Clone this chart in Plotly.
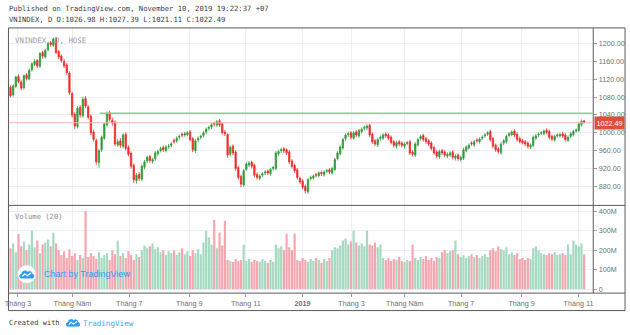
import plotly.graph_objects as go

W, H = 630, 335

# ---------------- data (each candle ~ 2 trading days) ----------------
open_ = [
    1102, 1085, 1104, 1126, 1114, 1101, 1130, 1121, 1141, 1153,
    1162, 1149, 1180, 1170, 1186, 1202, 1196, 1212, 1182, 1172,
    1160, 1152, 1134, 1088, 1042, 1014, 1057, 1038, 1077, 1058,
    1037, 1002, 983, 933, 962, 988, 1018, 1045, 1028, 1024,
    973, 982, 970, 997, 967, 954, 927, 893, 907, 896,
    923, 937, 947, 936, 942, 953, 960, 967, 960, 969,
    972, 983, 982, 990, 997, 995, 996, 1002, 987, 960,
    984, 990, 994, 1002, 1010, 1013, 1021, 1018, 1027, 1020,
    1002, 996, 952, 970, 957, 922, 902, 883, 918, 928,
    934, 927, 907, 898, 905, 910, 914, 908, 920, 920,
    953, 960, 964, 962, 957, 937, 927, 917, 898, 892,
    880, 868, 897, 899, 906, 904, 911, 906, 914, 917,
    910, 918, 942, 953, 966, 987, 996, 1000, 988, 1002,
    993, 1003, 1010, 1011, 1017, 997, 982, 973, 987, 988,
    997, 995, 990, 980, 970, 980, 977, 970, 976, 980,
    957, 950, 973, 987, 994, 987, 982, 977, 967, 957,
    946, 960, 957, 948, 950, 957, 943, 950, 940, 943,
    960, 966, 977, 973, 984, 980, 988, 993, 997, 1003,
    987, 972, 964, 956, 977, 980, 994, 996, 1004, 997,
    987, 982, 980, 977, 968, 972, 988, 995, 999, 998,
    1006, 1003, 992, 984, 993, 993, 998, 995, 983, 992,
    996, 1004, 1005, 1018, 1026.98,
]
high = [
    1106, 1109, 1128, 1131, 1118, 1131, 1134, 1144, 1158, 1166,
    1166, 1181, 1184, 1189, 1204, 1206, 1214, 1215, 1186, 1176,
    1165, 1156, 1138, 1092, 1046, 1060, 1062, 1081, 1082, 1062,
    1041, 1007, 987, 964, 994, 1024, 1048, 1050, 1034, 1028,
    986, 988, 999, 1001, 972, 958, 931, 910, 912, 929,
    939, 949, 951, 944, 959, 962, 969, 971, 972, 975,
    979, 987, 992, 996, 1001, 1002, 1004, 1006, 990, 986,
    992, 996, 1004, 1012, 1016, 1022, 1025, 1029, 1031, 1023,
    1006, 999, 972, 974, 961, 926, 906, 919, 934, 937,
    938, 931, 911, 907, 912, 916, 918, 922, 926, 959,
    962, 966, 968, 965, 961, 941, 931, 921, 902, 896,
    884, 899, 904, 907, 910, 914, 915, 916, 919, 921,
    924, 944, 959, 972, 989, 999, 1003, 1004, 1004, 1006,
    1009, 1012, 1016, 1019, 1020, 1001, 986, 989, 994, 999,
    1001, 999, 994, 984, 982, 984, 981, 979, 982, 984,
    961, 979, 989, 996, 998, 991, 986, 981, 971, 961,
    962, 964, 961, 956, 959, 961, 952, 954, 949, 966,
    972, 976, 981, 984, 988, 990, 994, 999, 1004, 1007,
    991, 976, 968, 979, 986, 996, 1002, 1006, 1008, 1001,
    991, 986, 984, 981, 976, 994, 997, 1001, 1004, 1008,
    1010, 1007, 996, 996, 999, 1000, 1002, 999, 994, 1002,
    1007, 1010, 1024, 1030, 1027.39,
]
low = [
    1079, 1081, 1100, 1111, 1095, 1097, 1117, 1118, 1137, 1149,
    1145, 1145, 1166, 1166, 1182, 1193, 1192, 1176, 1165, 1157,
    1145, 1130, 1085, 1034, 1008, 1010, 1034, 1034, 1055, 1030,
    995, 980, 928, 922, 957, 984, 1014, 1025, 1016, 970,
    968, 966, 965, 960, 947, 920, 888, 886, 892, 891,
    918, 932, 933, 931, 937, 948, 956, 957, 956, 964,
    967, 976, 977, 985, 990, 991, 992, 981, 957, 955,
    979, 985, 990, 997, 1005, 1008, 1014, 1013, 1013, 996,
    993, 944, 947, 950, 915, 895, 878, 879, 914, 923,
    920, 900, 895, 893, 901, 905, 905, 904, 915, 916,
    949, 955, 955, 950, 930, 920, 910, 895, 885, 873,
    864, 863, 893, 895, 900, 900, 903, 902, 910, 907,
    906, 914, 938, 949, 962, 982, 991, 985, 984, 990,
    989, 998, 1005, 1006, 990, 975, 970, 968, 982, 984,
    988, 983, 974, 967, 965, 970, 967, 965, 972, 950,
    947, 946, 969, 982, 980, 975, 970, 960, 950, 943,
    941, 950, 945, 943, 946, 940, 938, 937, 935, 939,
    956, 962, 971, 969, 978, 976, 984, 989, 993, 980,
    965, 957, 953, 951, 972, 976, 990, 992, 990, 980,
    976, 974, 970, 965, 963, 968, 984, 990, 995, 994,
    997, 985, 981, 980, 989, 989, 988, 980, 979, 988,
    992, 1000, 1002, 1014, 1021.11,
]
close = [
    1083, 1105, 1125, 1115, 1100, 1128, 1122, 1140, 1155, 1160,
    1150, 1178, 1172, 1185, 1200, 1198, 1210, 1180, 1170, 1162,
    1150, 1135, 1090, 1040, 1015, 1055, 1040, 1075, 1060, 1035,
    1000, 985, 935, 960, 990, 1020, 1043, 1030, 1022, 975,
    980, 972, 995, 965, 952, 925, 895, 905, 898, 925,
    935, 945, 938, 940, 955, 958, 965, 962, 968, 970,
    975, 980, 988, 992, 995, 998, 1000, 985, 962, 982,
    988, 992, 1000, 1008, 1012, 1018, 1020, 1025, 1018, 1000,
    998, 950, 968, 955, 920, 900, 885, 915, 930, 932,
    925, 905, 900, 903, 908, 912, 910, 918, 922, 955,
    958, 962, 960, 955, 935, 925, 915, 900, 890, 878,
    870, 895, 900, 903, 905, 910, 908, 912, 915, 912,
    920, 940, 955, 968, 985, 995, 998, 990, 1000, 995,
    1005, 1008, 1012, 1015, 995, 980, 975, 985, 990, 995,
    993, 988, 978, 972, 978, 975, 972, 975, 978, 955,
    952, 975, 985, 992, 985, 980, 975, 965, 955, 948,
    958, 955, 950, 952, 955, 945, 948, 942, 945, 962,
    968, 972, 975, 980, 982, 986, 990, 995, 1000, 985,
    970, 962, 958, 975, 982, 992, 998, 1002, 995, 985,
    980, 978, 975, 970, 972, 990, 993, 997, 1000, 1004,
    1001, 990, 986, 992, 995, 996, 993, 985, 990, 998,
    1003, 1006, 1020, 1026, 1022.49,
]
volume_m = [
    210, 235, 190, 283, 220, 245, 200, 230, 300, 215,
    250, 185, 230, 240, 255, 220, 290, 235, 200, 175,
    195, 160, 205, 170, 185, 150, 175, 160, 402, 165,
    185, 170, 155, 190, 160, 175, 185, 150, 200, 180,
    250, 170, 185, 160, 195, 175, 150, 180, 165, 200,
    225, 210, 220, 235, 205, 215, 190, 200, 175, 195,
    185, 200, 175, 190, 210, 180, 195, 170, 200, 185,
    205, 180, 240, 300, 265, 230, 357, 210, 290, 225,
    350, 150, 145, 140, 155, 145, 150, 230, 145, 155,
    140, 150, 145, 140, 155, 145, 135, 150, 140, 230,
    210, 220, 200, 285, 215, 200, 285, 150, 145, 160,
    150, 140, 155, 145, 160, 150, 135, 155, 145, 160,
    200, 215, 210, 225, 250, 260, 230, 245, 300, 240,
    225, 235, 220, 300, 230, 225, 240, 215, 230, 160,
    150, 160, 145, 155, 150, 165, 145, 140, 150, 145,
    230, 160, 150, 165, 155, 170, 150, 160, 145, 165,
    160, 190, 200, 185, 195, 200, 250, 180, 165, 175,
    160, 170, 180, 165, 175, 160, 170, 180, 165, 200,
    210, 195, 220, 205, 200, 215, 180, 190, 175, 185,
    155, 160, 150, 160, 155, 210, 220, 200, 185, 180,
    175, 185, 180, 190, 175, 180, 185, 175, 230, 180,
    250, 230, 220, 235, 180,
]
tick_pos = [2.8, 23.1, 44.3, 66.7, 87.8, 108.9, 127.2, 147.1, 168.1, 190.7, 211.9]
tick_labels = ["Tháng 3", "Tháng Năm", "Tháng 7", "Tháng 9", "Tháng 11", "<b>2019</b>",
               "Tháng 3", "Tháng Năm", "Tháng 7", "Tháng 9", "Tháng 11"]
price_ticks = [880, 920, 960, 1000, 1040, 1080, 1120, 1160, 1200]
vol_ticks = [0, 100, 200, 300, 400]
vol_tick_labels = ["0", "100M", "200M", "300M", "400M"]
resistance_level = 1044
resistance_start = 33.3

n = len(close)
assert len(open_) == n and len(high) == n and len(low) == n and len(volume_m) == n, \
    (len(open_), len(high), len(low), len(close), len(volume_m))
xs = list(range(n))

# ---------------- styling helpers ----------------
def px(x):
    return x / W

def py(y):
    return 1 - y / H

UP, DOWN = "#2e9b3a", "#ef2b2b"
VUP, VDOWN = "#a5d9c0", "#f5a6ae"
GRID = "#eceff5"
FRAME = "#5a5a5a"
TXT = "#707070"
BLUE = "#2f9cf4"
MONO = "DejaVu Sans Mono"
SANS = "Liberation Sans"

X_RANGE = [-0.56, 217.4]
X_DOM = [px(5), px(593)]

fig = go.Figure()
fig.add_trace(go.Candlestick(
    x=xs, open=open_, high=high, low=low, close=close,
    increasing=dict(line=dict(color=UP, width=0.8), fillcolor=UP),
    decreasing=dict(line=dict(color=DOWN, width=0.8), fillcolor=DOWN),
    whiskerwidth=0, xaxis="x", yaxis="y", showlegend=False, hoverinfo="skip",
))
vcolors = [VUP if c >= o else VDOWN for o, c in zip(open_, close)]
fig.add_trace(go.Bar(
    x=xs, y=volume_m, marker=dict(color=vcolors, line=dict(width=0)),
    xaxis="x2", yaxis="y2", showlegend=False, hoverinfo="skip",
))

tickfont = dict(family=SANS, size=7.2, color=TXT)
fig.update_layout(
    width=W, height=H, margin=dict(l=0, r=0, t=0, b=0),
    paper_bgcolor="white", plot_bgcolor="white",
    bargap=0.18, showlegend=False,
    xaxis=dict(domain=X_DOM, range=X_RANGE, anchor="y", tickvals=tick_pos,
               showticklabels=False, showgrid=True, gridcolor=GRID, gridwidth=1,
               zeroline=False, rangeslider=dict(visible=False), ticks=""),
    yaxis=dict(domain=[py(206), py(28)], range=[837.3, 1235.1], anchor="x", side="right",
               tickvals=price_ticks, tickformat=".2f", ticks="outside", ticklen=3,
               tickcolor="#999", tickfont=tickfont, showgrid=True, gridcolor=GRID,
               zeroline=False),
    xaxis2=dict(domain=X_DOM, range=X_RANGE, anchor="y2", matches="x",
                tickvals=tick_pos, ticktext=tick_labels, ticks="outside", ticklen=3,
                tickcolor="#999", tickfont=tickfont, showgrid=True, gridcolor=GRID,
                zeroline=False, ticklabeloverflow="allow"),
    yaxis2=dict(domain=[py(294), py(206)], range=[-20.5, 430.8], anchor="x2", side="right",
                tickvals=vol_ticks, ticktext=vol_tick_labels, ticks="outside", ticklen=3,
                tickcolor="#999", tickfont=tickfont, showgrid=True, gridcolor=GRID,
                zeroline=False),
)

shapes = []
# frame & separators
shapes.append(dict(type="rect", xref="paper", yref="paper", x0=px(4.5), x1=px(625),
                   y0=py(311.5), y1=py(28), line=dict(color=FRAME, width=1)))
for yy in (206, 294):
    shapes.append(dict(type="line", xref="paper", yref="paper", x0=px(4.5), x1=px(625),
                       y0=py(yy), y1=py(yy), line=dict(color=FRAME, width=1)))
shapes.append(dict(type="line", xref="paper", yref="paper", x0=px(593), x1=px(593),
                   y0=py(294), y1=py(28), line=dict(color=FRAME, width=1)))
# drawn resistance line and last price line
shapes.append(dict(type="line", xref="x", yref="y", x0=resistance_start, x1=X_RANGE[1],
                   y0=resistance_level, y1=resistance_level,
                   line=dict(color="#86cf98", width=1.5)))
shapes.append(dict(type="line", xref="paper", yref="y", x0=X_DOM[0], x1=X_DOM[1],
                   y0=close[-1], y1=close[-1], line=dict(color="#f4b3b3", width=1)))


def cloud_paths(cx, cy, s):
    def P(x, y):
        return f"{px(cx + x * s):.5f},{py(cy + y * s):.5f}"
    body = ("M " + P(-5.5, 3.5) +
            " C " + P(-8, 3.5) + " " + P(-8, -0.5) + " " + P(-5.2, -0.7) +
            " C " + P(-5, -4) + " " + P(-1, -5) + " " + P(0.5, -2.8) +
            " C " + P(2, -4.2) + " " + P(5.5, -3.5) + " " + P(5.3, -0.8) +
            " C " + P(8, -0.5) + " " + P(7.8, 3.5) + " " + P(5.5, 3.5) + " Z")
    zig = ("M " + P(-4.5, 1.6) + " L " + P(-2, -0.9) + " L " + P(0.5, 1.1) +
           " L " + P(4.2, -1.6))
    return body, zig

# logo in volume pane
shapes.append(dict(type="circle", xref="paper", yref="paper", x0=px(14), x1=px(32),
                   y0=py(284), y1=py(266), fillcolor="white", line=dict(color="#e3e3e3", width=0.5)))
b, z = cloud_paths(23, 275.5, 1.0)
shapes.append(dict(type="path", xref="paper", yref="paper", path=b, fillcolor=BLUE,
                   line=dict(color=BLUE, width=0.5)))
shapes.append(dict(type="path", xref="paper", yref="paper", path=z,
                   line=dict(color="white", width=1.2)))
# logo in footer
b2, z2 = cloud_paths(69.5, 324, 0.95)
shapes.append(dict(type="path", xref="paper", yref="paper", path=b2, fillcolor=BLUE,
                   line=dict(color=BLUE, width=0.5)))
shapes.append(dict(type="path", xref="paper", yref="paper", path=z2,
                   line=dict(color="white", width=1.1)))
fig.update_layout(shapes=shapes)

ann = []
def text(x, y, s, size, color, family=MONO, anchor="left"):
    ann.append(dict(x=px(x), y=py(y), xref="paper", yref="paper", text=s, showarrow=False,
                    xanchor=anchor, yanchor="middle", font=dict(family=family, size=size, color=color)))

text(3.5, 9, "Published on TradingView.com, November 10, 2019 19:22:37 +07", 7.2, "#3c3c3c")
text(3.5, 20, "VNINDEX, D O:1026.98 H:1027.39 L:1021.11 C:1022.49", 7.2, "#3c3c3c")
text(9, 40.5, "VNINDEX, D, HOSE", 7.4, "#a0a0a0")
text(9, 217.5, "Volume (20)", 7.2, "#8a8a8a")
text(38, 274.5, "Chart by TradingView", 9.0, BLUE, family=SANS)
text(3.5, 324, "Created with", 7.0, "#3c3c3c")
text(77.5, 324, "TradingView", 7.6, "#45a6f2")
# last price label
ann.append(dict(x=px(593.5), y=close[-1], xref="paper", yref="y", text=f"{close[-1]:.2f}",
                showarrow=False, xanchor="left", yanchor="middle", bgcolor="#d9503f",
                borderpad=1.5, font=dict(family=SANS, size=7.2, color="white")))
fig.update_layout(annotations=ann)

fig.write_html("out.html")
